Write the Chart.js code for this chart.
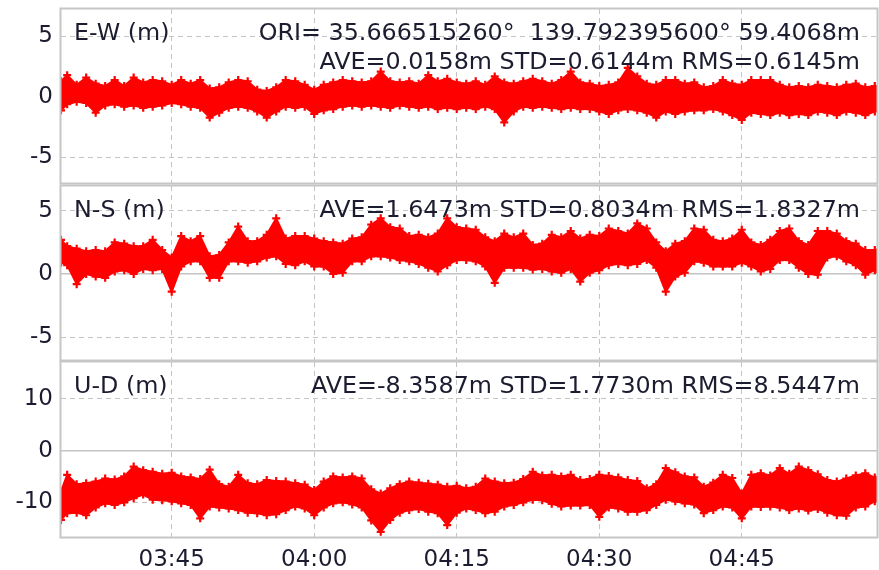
<!DOCTYPE html>
<html>
<head>
<meta charset="utf-8">
<script src="https://cdn.jsdelivr.net/npm/chart.js@4/dist/chart.umd.min.js"></script>
<style>
  html, body { margin: 0; padding: 0; background: #ffffff; overflow: hidden; }
  #wrap { position: relative; width: 879px; height: 570px; background: #ffffff; }
  #wrap canvas { position: absolute; left: 0; top: 0; }
</style>
</head>
<body>
<div id="wrap">
  <canvas id="cEW" width="879" height="570"></canvas>
  <canvas id="cNS" width="879" height="570"></canvas>
  <canvas id="cUD" width="879" height="570"></canvas>
</div>
<script>
// Sample epochs (GPST, hh:mm[:ss]); each value below is the upper / lower edge of the
// position scatter within that minute.
const times = ['03:33:21',
  '03:34','03:35','03:36','03:37','03:38','03:39','03:40','03:41','03:42','03:43',
  '03:44','03:45','03:46','03:47','03:48','03:49','03:50','03:51','03:52','03:53',
  '03:54','03:55','03:56','03:57','03:58','03:59','04:00','04:01','04:02','04:03',
  '04:04','04:05','04:06','04:07','04:08','04:09','04:10','04:11','04:12','04:13',
  '04:14','04:15','04:16','04:17','04:18','04:19','04:20','04:21','04:22','04:23',
  '04:24','04:25','04:26','04:27','04:28','04:29','04:30','04:31','04:32','04:33',
  '04:34','04:35','04:36','04:37','04:38','04:39','04:40','04:41','04:42','04:43',
  '04:44','04:45','04:46','04:47','04:48','04:49','04:50','04:51','04:52','04:53',
  '04:54','04:55','04:56','04:57','04:58','04:59','04:59:14'];

// East-West (m)
const ewHi = [1.3,
  1.8,1.0,1.6,1.1,0.9,1.4,0.9,1.6,1.2,1.4,
  1.3,1.0,1.4,1.1,1.4,0.7,0.8,1.2,1.4,1.3,
  0.6,0.5,0.8,1.4,1.3,1.0,0.6,1.0,1.2,1.4,
  1.3,1.2,1.3,2.1,1.3,1.2,1.3,1.1,1.8,1.3,
  1.5,1.2,1.1,1.3,1.0,1.7,1.2,1.1,1.3,1.5,
  1.3,1.1,1.4,2.1,1.2,1.1,0.9,1.0,1.2,2.4,
  1.7,1.1,1.0,1.4,1.4,1.1,1.2,0.8,0.9,1.4,
  1.1,1.0,1.4,1.4,1.4,1.0,0.8,0.9,0.8,1.0,
  0.9,0.8,1.0,1.1,0.8,0.9, 0.6];
const ewLo = [-1.1,
  -0.6,-0.4,-0.5,-1.3,-0.7,-0.6,-0.8,-0.7,-0.9,-0.8,
  -0.7,-0.5,-0.6,-0.8,-0.9,-1.7,-1.3,-0.9,-0.8,-0.9,
  -1.2,-1.7,-1.2,-0.8,-0.9,-0.8,-1.4,-1.1,-1.0,-0.8,
  -0.7,-0.8,-0.7,-0.8,-0.9,-0.7,-0.8,-0.9,-0.8,-1.0,
  -0.9,-1.0,-0.9,-1.0,-0.8,-1.0,-2.1,-1.2,-0.8,-0.9,
  -0.8,-0.9,-1.0,-0.9,-1.0,-1.0,-1.2,-1.4,-1.1,-1.0,
  -1.1,-1.3,-1.7,-1.2,-1.4,-1.2,-1.1,-1.1,-1.0,-1.2,
  -1.5,-1.9,-1.3,-1.4,-1.5,-1.3,-1.5,-1.4,-1.5,-1.2,
  -1.3,-1.5,-1.2,-1.3,-1.5,-1.2, -0.9];

// North-South (m)
const nsHi = [2.7,
  2.2,2.0,1.8,1.9,1.8,2.5,2.4,2.2,2.2,2.7,
  1.9,1.3,3.0,2.6,3.0,1.4,1.5,2.5,3.75,2.6,
  2.6,3.1,4.4,2.8,3.0,3.0,2.8,2.6,2.5,2.4,
  2.8,2.9,3.9,4.4,3.7,3.6,3.0,3.1,2.9,3.2,
  4.4,3.7,3.6,3.5,2.9,2.6,3.2,2.9,3.2,2.3,
  2.4,3.1,2.9,3.4,2.8,3.1,3.0,3.6,3.4,3.2,
  4.0,3.6,2.5,1.8,2.4,2.6,3.6,3.5,2.7,2.6,
  2.8,3.5,2.5,2.3,2.7,3.4,3.6,2.6,2.3,3.4,
  3.4,3.2,2.6,2.4,1.9,1.9, 1.7];
const nsLo = [0.9,
  0.7,-0.8,0.0,-0.2,-0.3,0.2,0.3,0.0,0.4,0.3,
  0.4,-1.4,0.6,1.0,1.0,-0.3,-0.3,1.0,1.0,0.9,
  1.0,1.3,1.4,0.8,0.7,1.0,0.6,0.6,0.0,0.1,
  1.0,1.0,1.4,1.4,1.3,1.1,1.0,0.8,0.5,0.2,
  0.7,1.1,1.1,1.0,0.6,-0.7,0.5,0.5,0.5,0.35,
  0.4,0.2,0.1,0.4,-0.6,0.1,0.3,0.7,0.8,0.7,
  0.8,1.1,0.5,-1.4,-0.2,0.1,1.0,0.9,0.6,0.6,
  0.6,0.9,0.6,0.2,0.4,1.1,1.1,0.5,0.0,-0.05,
  1.3,1.4,1.0,0.7,-0.05,0.3, 0.4];

// Up-Down (m)
const udHi = [-7.9,
  -4.7,-6.5,-6.3,-6.0,-5.4,-5.6,-5.0,-3.1,-3.8,-4.1,
  -4.5,-4.3,-5.0,-5.2,-5.5,-3.7,-6.5,-7.0,-4.7,-6.3,
  -6.5,-5.7,-5.9,-6.0,-6.3,-6.6,-7.6,-6.0,-5.0,-5.2,
  -5.0,-5.4,-7.5,-8.3,-7.3,-6.5,-6.0,-6.2,-6.4,-6.6,
  -7.0,-6.8,-7.3,-7.0,-5.4,-6.0,-6.3,-6.2,-5.5,-4.1,
  -4.8,-4.7,-5.0,-4.7,-5.7,-5.5,-4.7,-4.9,-5.2,-5.7,
  -5.9,-7.3,-6.5,-3.4,-4.2,-5.0,-5.2,-7.0,-6.2,-4.7,
  -5.3,-8.3,-4.7,-4.4,-4.8,-3.4,-4.5,-3.1,-3.8,-4.6,
  -5.7,-6.0,-5.4,-4.8,-4.4,-5.2, -5.8];
const udLo = [-13.4,
  -12.1,-12.0,-12.5,-11.0,-10.2,-10.5,-10.0,-9.2,-8.5,-9.5,
  -9.6,-9.8,-10.2,-10.5,-13.1,-10.8,-11.0,-11.2,-11.5,-12.0,
  -12.1,-12.5,-12.3,-11.5,-10.8,-11.2,-12.5,-11.0,-10.2,-10.0,
  -10.4,-11.0,-13.5,-15.7,-13.4,-12.0,-11.5,-11.3,-11.8,-12.1,
  -14.4,-12.0,-11.2,-11.5,-12.1,-11.8,-10.8,-10.5,-10.0,-9.5,
  -9.6,-10.3,-10.8,-10.6,-10.6,-10.5,-12.8,-11.0,-11.2,-11.8,
  -11.8,-11.5,-10.5,-9.5,-9.8,-10.2,-10.4,-12.1,-11.5,-10.8,
  -11.0,-13.1,-10.8,-10.9,-10.8,-11.0,-11.5,-11.2,-11.6,-11.3,
  -12.0,-12.5,-12.6,-11.0,-10.8,-9.8, -9.2];

// Axis ticks
const timeTicks = ['03:45','04:00','04:15','04:30','04:45'];
const horizTicks = [-5, 0, 5];
const vertTicks = [-10, 0, 10];
const timeRange = ['03:33:21', '04:59:14'];

// Panel annotations
const ewTitle = 'E-W (m)';
const nsTitle = 'N-S (m)';
const udTitle = 'U-D (m)';
const oriText = 'ORI= 35.666515260\u00B0  139.792395600\u00B0 59.4068m';
const ewStats = 'AVE=0.0158m STD=0.6144m RMS=0.6145m';
const nsStats = 'AVE=1.6473m STD=0.8034m RMS=1.8327m';
const udStats = 'AVE=-8.3587m STD=1.7730m RMS=8.5447m';

// ---------------------------------------------------------------------------
const FONT = '"DejaVu Sans", Verdana, sans-serif';
const TEXT = '#1c1c30';
const GRID = '#c4c4c4';
const FRAME = '#c6c6c6';
const RED = '#ff0000';
const AXIS_W = 61;       // width kept for the value labels
const RIGHT_PAD = 2;     // layout padding on the right of the plot boxes

function toMin(s) {
  const p = s.split(':').map(Number);
  return p[0] * 60 + p[1] + (p[2] || 0) / 60;
}
function fmtMin(v) {
  const h = Math.floor(v / 60 + 1e-9), m = Math.round(v - h * 60);
  return String(h).padStart(2, '0') + ':' + String(m).padStart(2, '0');
}
const tx = times.map(toMin);
const xMin = toMin(timeRange[0]), xMax = toMin(timeRange[1]);

function pts(arr) { return arr.map((v, i) => ({ x: tx[i], y: v })); }

function bandSets(hi, lo) {
  const common = {
    borderColor: RED, backgroundColor: RED, borderWidth: 2,
    pointStyle: 'cross', pointRadius: 4, pointBorderWidth: 2.2,
    pointBorderColor: RED, pointBackgroundColor: RED, tension: 0
  };
  return [
    Object.assign({ data: pts(hi), fill: '+1' }, common),
    Object.assign({ data: pts(lo), fill: false }, common)
  ];
}

// keep the plot box exactly where the layout padding puts it
function noEdgePadding(s) {
  s.paddingTop = 0; s.paddingBottom = 0; s.paddingLeft = 0; s.paddingRight = 0;
}

// frame + in-panel text
function panelPlugin(title, rightLines) {
  return {
    id: 'panelDeco',
    afterDraw(chart) {
      const { ctx, chartArea: a } = chart;
      ctx.save();
      ctx.strokeStyle = FRAME;
      ctx.lineWidth = 2;
      ctx.strokeRect(a.left - 0.5, a.top - 0.5, a.right - a.left + 1, a.bottom - a.top + 1);
      ctx.font = '23.8px ' + FONT;
      ctx.fillStyle = TEXT;
      ctx.textBaseline = 'middle';
      ctx.textAlign = 'left';
      ctx.fillText(title, a.left + 13, a.top + 25);
      ctx.textAlign = 'right';
      rightLines.forEach((t, i) => ctx.fillText(t, a.right - 17, a.top + 25 + i * 29));
      ctx.restore();
    }
  };
}

function makePanel(id, hi, lo, yTicks, yMin, yMax, top, bottom, showTime, title, lines) {
  const tickFont = { family: FONT, size: 23 };
  return new Chart(document.getElementById(id), {
    type: 'line',
    data: { datasets: bandSets(hi, lo) },
    options: {
      responsive: false,
      animation: false,
      events: [],
      layout: { autoPadding: false, padding: { left: 0, right: RIGHT_PAD, top: top, bottom: bottom } },
      plugins: { legend: { display: false }, tooltip: { enabled: false } },
      scales: {
        x: {
          type: 'linear', min: xMin, max: xMax,
          afterBuildTicks: s => { s.ticks = timeTicks.map(t => ({ value: toMin(t) })); },
          afterFit: s => { s.height = showTime ? 33 : 0; noEdgePadding(s); },
          grid: { color: GRID, lineWidth: 1, drawTicks: false },
          border: { display: false, dash: [5, 4] },
          ticks: {
            display: showTime, padding: 9, color: TEXT, font: tickFont,
            maxRotation: 0, autoSkip: false, callback: v => fmtMin(v)
          }
        },
        y: {
          type: 'linear', min: yMin, max: yMax,
          afterBuildTicks: s => { s.ticks = yTicks.map(v => ({ value: v })); },
          afterFit: s => { s.width = AXIS_W; noEdgePadding(s); },
          grid: {
            color: GRID, drawTicks: false,
            lineWidth: c => (c.tick && c.tick.value === 0 ? 1.6 : 1)
          },
          border: {
            display: false,
            dash: c => (c.tick && c.tick.value === 0 ? [] : [5, 4])
          },
          ticks: { padding: 8, color: TEXT, font: tickFont, callback: v => String(v) }
        }
      }
    },
    plugins: [panelPlugin(title, lines)]
  });
}

makePanel('cEW', ewHi, ewLo, horizTicks, -7.11, 7.27, 9, 387, false, ewTitle, [oriText, ewStats]);
makePanel('cNS', nsHi, nsLo, horizTicks, -6.8, 6.96, 186, 210, false, nsTitle, [nsStats]);
makePanel('cUD', udHi, udLo, vertTicks, -16.7, 17.1, 362, 0, true, udTitle, [udStats]);
</script>
</body>
</html>
